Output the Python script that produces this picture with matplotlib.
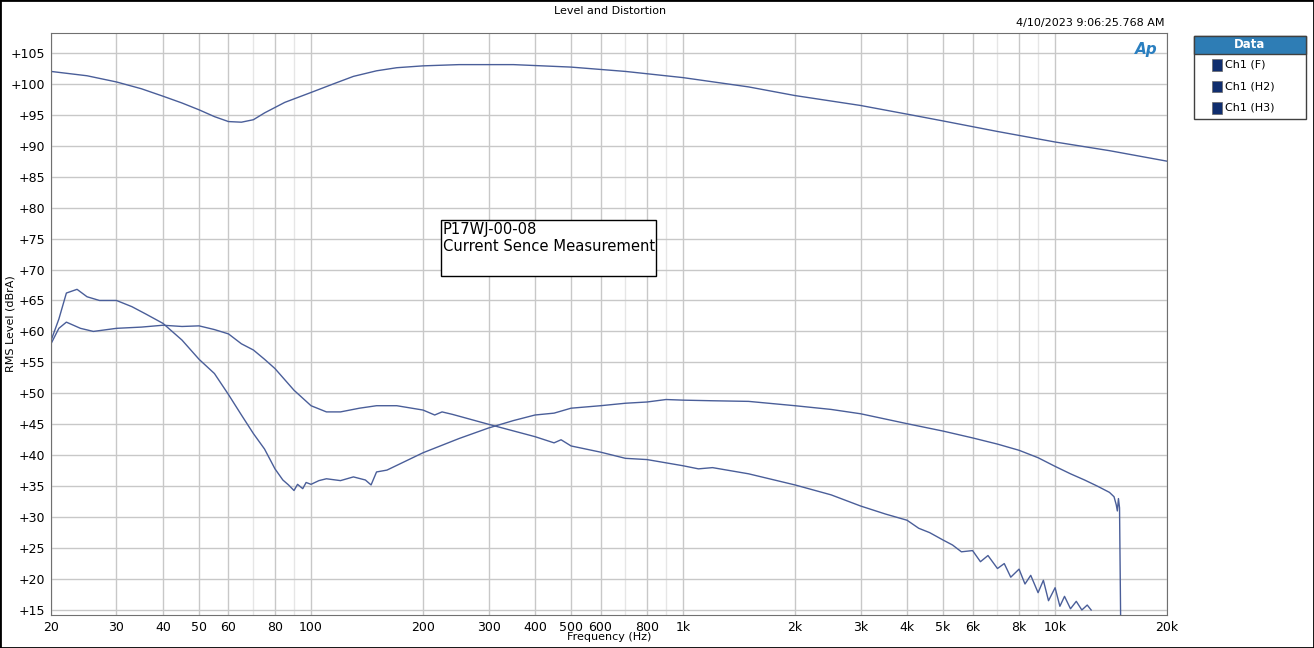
import matplotlib.pyplot as plt
from matplotlib.patches import Rectangle
from matplotlib.ticker import FixedLocator, NullFormatter

# Ch1 (F)
f_freq = [20, 25, 30, 35, 40, 45, 50, 55, 60, 65, 70, 75, 85, 100, 115, 130, 150, 170, 200, 250,
          350, 500, 700, 1000, 1500, 2000, 3000, 4000, 5000, 7000, 10000, 14000, 20000]
f_level = [102, 101.3, 100.3, 99.2, 98.0, 96.9, 95.8, 94.7, 93.9, 93.8, 94.2, 95.3, 97.0, 98.6, 100.0,
           101.2, 102.1, 102.6, 102.9, 103.1, 103.1, 102.7, 102.0, 101.0, 99.5, 98.1, 96.5, 95.1,
           94.0, 92.3, 90.6, 89.2, 87.5]

# Ch1 (H2)
h2_freq = [20, 21, 22, 23.5, 25, 27, 30, 33, 36, 40, 45, 50, 55, 60, 65, 70, 75, 80, 84, 87, 90,
           92, 95, 97, 100, 105, 110, 120, 130, 140, 145, 150, 160, 200, 250, 300, 350, 400, 450,
           500, 600, 700, 800, 900, 1000, 1200, 1500, 2000, 2500, 3000, 4000, 5000, 6000, 7000,
           8000, 9000, 10000, 11000, 12000, 13000, 14000, 14400, 14600, 14700, 14800, 14900, 15000]
h2_level = [58.5, 62, 66.2, 66.8, 65.6, 65.0, 65.0, 64.0, 62.8, 61.3, 58.6, 55.5, 53.2, 49.8, 46.5,
            43.5, 41.0, 37.8, 36.0, 35.2, 34.3, 35.3, 34.6, 35.6, 35.3, 35.9, 36.2, 35.9, 36.5, 36.0,
            35.2, 37.3, 37.6, 40.4, 42.7, 44.4, 45.6, 46.5, 46.8, 47.6, 48.0, 48.4, 48.6, 49.0, 48.9,
            48.8, 48.7, 48.0, 47.4, 46.7, 45.1, 43.9, 42.8, 41.8, 40.8, 39.6, 38.2, 37.0, 36.0,
            35.0, 34.0, 33.3, 32.0, 31.0, 33.0, 31.5, 14.0]

# Ch1 (H3)
h3_freq = [20, 21, 22, 24, 26, 30, 35, 40, 45, 50, 55, 60, 65, 70, 75, 80, 90, 100, 110, 120, 135,
           150, 170, 200, 215, 225, 240, 300, 400, 450, 470, 500, 600, 700, 800, 1000, 1100, 1200,
           1500, 2000, 2500, 3000, 3500, 4000, 4300, 4600, 5000, 5300, 5600, 6000, 6300, 6600, 7000,
           7300, 7600, 8000, 8300, 8600, 9000, 9300, 9600, 10000, 10300, 10600, 11000, 11400,
           11800, 12200, 12500]
h3_level = [58.0, 60.5, 61.5, 60.5, 60.0, 60.5, 60.7, 61.0, 60.8, 60.9, 60.3, 59.6, 58.0, 57.0, 55.5,
            54.0, 50.5, 48.0, 47.0, 47.0, 47.6, 48.0, 48.0, 47.3, 46.5, 47.0, 46.6, 45.0, 43.0, 42.0,
            42.5, 41.5, 40.5, 39.5, 39.3, 38.3, 37.8, 38.0, 37.0, 35.2, 33.6, 31.8, 30.5, 29.5,
            28.2, 27.5, 26.3, 25.5, 24.4, 24.6, 22.8, 23.8, 21.7, 22.5, 20.3, 21.6, 19.2, 20.6,
            17.8, 19.8, 16.5, 18.6, 15.6, 17.2, 15.2, 16.4, 15.0, 15.8, 15.0]

major_ticks = [20, 30, 40, 50, 60, 80, 100, 200, 300, 400, 500, 600, 800, 1000, 2000, 3000,
               4000, 5000, 6000, 8000, 10000, 20000]
major_labels = ['20', '30', '40', '50', '60', '80', '100', '200', '300', '400', '500', '600', '800',
                '1k', '2k', '3k', '4k', '5k', '6k', '8k', '10k', '20k']
minor_ticks = [70, 90, 700, 900, 7000, 9000]
y_ticks = list(range(15, 106, 5))

line_color = '#4a5e99'

fig = plt.figure(figsize=(13.14, 6.48), dpi=100)
fig.patches.append(Rectangle((0, 0), 1, 1, transform=fig.transFigure, fill=False,
                             edgecolor='black', linewidth=2))
ax = fig.add_axes([0.0388, 0.051, 0.8494, 0.898])

ax.plot(f_freq, f_level, color=line_color, linewidth=1)
ax.plot(h2_freq, h2_level, color=line_color, linewidth=1)
ax.plot(h3_freq, h3_level, color=line_color, linewidth=1)

ax.set_xscale('log')
ax.set_xlim(20, 20000)
ax.set_ylim(14.2, 108.2)
ax.xaxis.set_major_locator(FixedLocator(major_ticks))
ax.set_xticklabels(major_labels)
ax.xaxis.set_minor_locator(FixedLocator(minor_ticks))
ax.xaxis.set_minor_formatter(NullFormatter())
ax.set_yticks(y_ticks)
ax.set_yticklabels(['+%d' % v for v in y_ticks])
ax.tick_params(length=0, labelsize=9, pad=4)
ax.tick_params(which='minor', length=0)
ax.grid(True, which='major', color='#c8c8c8', linewidth=1)
ax.grid(True, which='minor', axis='x', color='#e6e6e6', linewidth=1)
for s in ax.spines.values():
    s.set_color('#707070')

ax.set_xlabel('Frequency (Hz)', fontsize=8, labelpad=-1)
fig.text(0.008, 0.5, 'RMS Level (dBrA)', fontsize=8, rotation=90, ha='center', va='center')

fig.text(0.4645, 0.99, 'Level and Distortion', fontsize=8, ha='center', va='top')
fig.text(0.886, 0.965, '4/10/2023 9:06:25.768 AM', fontsize=8, ha='right', va='center')
fig.text(0.872, 0.923, 'Ap', fontsize=11, ha='center', va='center', color='#2a7fc0',
         fontweight='bold', fontstyle='italic')

# annotation box
ax.add_patch(Rectangle((0.349, 0.582), 0.1927, 0.097, transform=ax.transAxes,
                       facecolor='white', edgecolor='black', linewidth=1, zorder=5))
ax.text(0.351, 0.675, 'P17WJ-00-08\nCurrent Sence Measurement', transform=ax.transAxes,
        fontsize=10.6, va='top', ha='left', linespacing=1.15, zorder=6)

# legend panel
fig.patches.append(Rectangle((0.9087, 0.817), 0.0852, 0.128, transform=fig.transFigure,
                             facecolor='white', edgecolor='#404040', linewidth=1))
fig.patches.append(Rectangle((0.9087, 0.917), 0.0852, 0.028, transform=fig.transFigure,
                             facecolor='#2e7db5', edgecolor='#404040', linewidth=1))
fig.text(0.951, 0.931, 'Data', fontsize=8.5, color='white', fontweight='bold',
         ha='center', va='center')
for i, name in enumerate(['Ch1 (F)', 'Ch1 (H2)', 'Ch1 (H3)']):
    yy = 0.900 - i * 0.0333
    fig.patches.append(Rectangle((0.9225, yy - 0.009), 0.0075, 0.018, transform=fig.transFigure,
                                 facecolor='#102e6e', edgecolor='#666666', linewidth=0.5))
    fig.text(0.9325, yy, name, fontsize=8, ha='left', va='center')

fig.savefig('out.png', dpi=100)
